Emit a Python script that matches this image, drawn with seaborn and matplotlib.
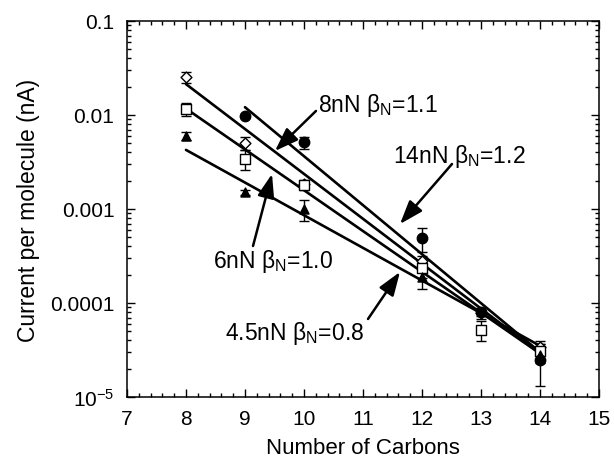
import numpy as np
import pandas as pd
import matplotlib
matplotlib.use("Agg")
import matplotlib.pyplot as plt
import matplotlib.ticker as mticker
import seaborn as sns

# Measured current per molecule vs. alkane chain length at four loads
carbons = [8, 9, 10, 12, 13, 14]

i_8nN = [0.0254, 0.0050, 0.00185, 0.00028, 7.8e-5, 3.4e-5]
err_8nN = [0.0035, 0.0008, 0.0002, 0.00004, 1.0e-5, 5e-6]

i_6nN = [0.0116, 0.0034, 0.0018, 0.000235, 5.2e-5, 3.1e-5]
err_6nN = [0.0018, 0.0008, 0.0002, 0.00005, 1.3e-5, 6e-6]

i_4p5nN = [0.0060, 0.0015, 0.0010, 0.00019, np.nan, 2.8e-5]
err_4p5nN = [0.0006, 0.0001, 0.00025, 0.00005, np.nan, 5e-6]

i_14nN = [np.nan, 0.0097, 0.0051, 0.00049, 8.0e-5, 2.5e-5]
err_14nN = [np.nan, 0.0003, 0.0008, 0.00014, 8e-6, 1.2e-5]

# Exponential fits I = I14 * exp(beta * (14 - N))
fit_labels = ["14nN", "8nN", "6nN", "4.5nN"]
fit_beta = [1.2, 1.1, 1.0, 0.8]
fit_start = [9, 8, 8, 8]
fit_end = 14
fit_i14 = [3.0e-5, 2.9e-5, 2.9e-5, 3.5e-5]

x_ticks = [7, 8, 9, 10, 11, 12, 13, 14, 15]
y_ticks = [1e-5, 1e-4, 1e-3, 1e-2, 1e-1]
y_ticklabels = ["10$^{-5}$", "0.0001", "0.001", "0.01", "0.1"]

sns.set_style("ticks")
plt.rcParams["font.family"] = ["Liberation Sans", "DejaVu Sans"]
plt.rcParams["mathtext.default"] = "regular"
plt.rcParams["text.color"] = "black"
plt.rcParams["axes.labelcolor"] = "black"
plt.rcParams["xtick.color"] = "black"
plt.rcParams["ytick.color"] = "black"

fig = plt.figure(figsize=(6.14, 4.60), dpi=100)
ax = fig.add_axes([0.2068, 0.1348, 0.7688, 0.8174])

# fit lines
for lab, b, s, i14 in zip(fit_labels, fit_beta, fit_start, fit_i14):
    n = np.array([s, fit_end], dtype=float)
    df = pd.DataFrame({"N": n, "I": i14 * np.exp(b * (fit_end - n))})
    sns.lineplot(data=df, x="N", y="I", ax=ax, color="black", lw=1.9,
                 zorder=2, legend=False)

series = [
    (i_8nN, err_8nN, "D", "white", 5.5),
    (i_6nN, err_6nN, "s", "white", 6.5),
    (i_4p5nN, err_4p5nN, "^", "black", 6.5),
    (i_14nN, err_14nN, "o", "black", 7.5),
]
for vals, errs, mk, fc, ms in series:
    df = pd.DataFrame({"N": carbons, "I": vals, "e": errs}).dropna()
    ax.errorbar(df["N"], df["I"], yerr=df["e"], fmt="none", ecolor="black",
                elinewidth=1.0, capsize=3.5, capthick=1.0, zorder=3)
    sns.scatterplot(data=df, x="N", y="I", ax=ax, marker=mk, s=ms ** 2,
                    facecolor=fc, edgecolor="black", linewidth=1.0,
                    zorder=4, legend=False)

ax.set_yscale("log")
ax.set_xlim(7, 15)
ax.set_ylim(1e-5, 0.1)
ax.set_xticks(x_ticks)
ax.xaxis.set_minor_locator(mticker.MultipleLocator(0.2))
ax.set_yticks(y_ticks)
ax.set_yticklabels(y_ticklabels)
ax.yaxis.set_minor_locator(mticker.LogLocator(base=10, subs=np.arange(2, 10)))
ax.yaxis.set_minor_formatter(mticker.NullFormatter())

ax.tick_params(which="both", direction="in", top=True, right=True,
               width=1.0, colors="black")
ax.tick_params(which="major", length=6, labelsize=15)
ax.tick_params(axis="y", which="major", pad=9)
ax.tick_params(axis="x", which="major", pad=9)
ax.tick_params(which="minor", length=3)
for sp in ax.spines.values():
    sp.set_linewidth(1.1)
    sp.set_color("black")

ax.set_xlabel("Number of Carbons", fontsize=16, va="baseline")
ax.xaxis.set_label_coords(0.5, -0.149)
ax.set_ylabel("Current per molecule (nA)", fontsize=16.5, labelpad=7)

# annotations: (label, text anchor, arrow tail, arrow tip)
notes = [
    ("8nN β$_{N}$=1.1", (10.237, 0.0110), (10.203, 0.01104), (9.508, 0.00414)),
    ("14nN β$_{N}$=1.2", (11.508, 0.00316), (12.508, 0.00301), (11.627, 0.000692)),
    ("6nN β$_{N}$=1.0", (8.458, 0.000242), (9.136, 0.000404), (9.458, 0.00236)),
    ("4.5nN β$_{N}$=0.8", (8.661, 4.14e-5), (11.085, 6.76e-5), (11.627, 0.000214)),
]
for txt, pos, tail, tip in notes:
    ax.text(pos[0], pos[1], txt, fontsize=16.5, ha="left", va="baseline",
            color="black", zorder=5)
    ax.annotate("", xy=tip, xytext=tail,
                arrowprops=dict(arrowstyle="-|>,head_length=0.9,head_width=0.32",
                                mutation_scale=16, lw=1.8, color="black",
                                shrinkA=0, shrinkB=0),
                zorder=5)

fig.savefig("out.png", dpi=100)
